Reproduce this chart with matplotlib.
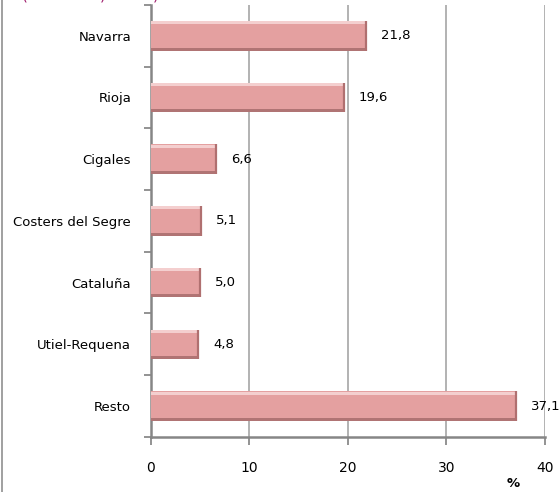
import matplotlib
matplotlib.use("Agg")
import matplotlib.pyplot as plt
from matplotlib.lines import Line2D

categories = ["Navarra", "Rioja", "Cigales", "Costers del Segre", "Cataluña", "Utiel-Requena", "Resto"]
values = [21.8, 19.6, 6.6, 5.1, 5.0, 4.8, 37.1]
value_labels = ["21,8", "19,6", "6,6", "5,1", "5,0", "4,8", "37,1"]
x_ticks = [0, 10, 20, 30, 40]

plt.rcParams['font.family'] = ['DejaVu Sans']

fig = plt.figure(figsize=(5.6, 4.92), dpi=100)
ax = fig.add_axes([0.269, 0.112, 0.704, 0.878])

y = list(range(len(categories)))
h = 0.48
main = "#E4A0A0"
ax.barh(y, values, height=h, color=main, edgecolor="none", zorder=3)
# bevel: dark bottom strip, light top strip, dark right edge
ax.barh([v + h / 2 - 0.025 for v in y], values, height=0.05, color="#B07474", edgecolor="none", zorder=4)
ax.barh([v - h / 2 + 0.03 for v in y], values, height=0.05, color="#F4CFCF", edgecolor="none", zorder=4)
for yi, v in zip(y, values):
    ax.plot([v, v], [yi - h / 2, yi + h / 2], color="#B07070", lw=1.6, zorder=5, solid_capstyle="butt")

ax.set_xlim(0, 40)
ax.set_ylim(len(categories) - 0.5, -0.5)
ax.set_xticks(x_ticks)
ax.set_xticklabels([str(t) for t in x_ticks], fontsize=10)
ax.set_yticks(y)
ax.set_yticklabels(categories, fontsize=9.5)
ax.set_yticks([i - 0.5 for i in range(len(categories) + 1)], minor=True)
ax.tick_params(axis="y", which="major", length=0, pad=14)
ax.tick_params(axis="y", which="minor", length=5, width=1.2, color="#808080", direction="out")
ax.tick_params(axis="x", which="major", length=6, width=1.2, color="#808080", direction="out", pad=11)

ax.grid(axis="x", color="#A6A6A6", linewidth=1.2, zorder=0)
for s in ["top", "right"]:
    ax.spines[s].set_visible(False)
for s in ["left", "bottom"]:
    ax.spines[s].set_color("#868686")
    ax.spines[s].set_linewidth(1.8)

for yi, v, lab in zip(y, values, value_labels):
    ax.annotate(lab, (v, yi), xytext=(15, 0), textcoords="offset pixels",
                va="center", ha="left", fontsize=9.5, zorder=6)

fig.text(0.916, 0.004, "%", fontsize=9.5, ha="center", va="bottom", fontweight="bold")

# figure frame line on the left
fig.add_artist(Line2D([0.004, 0.004], [0, 1], transform=fig.transFigure, color="#909090", lw=1.2))

# cut-off title tails at the top
for xp, ch in [(0.044, "("), (0.184, ")"), (0.279, ")")]:
    fig.text(xp, 1.0 + 1.0 / 492, ch, color="#A0206E", fontsize=11, ha="center", va="baseline")

fig.savefig("out.png", dpi=100)
